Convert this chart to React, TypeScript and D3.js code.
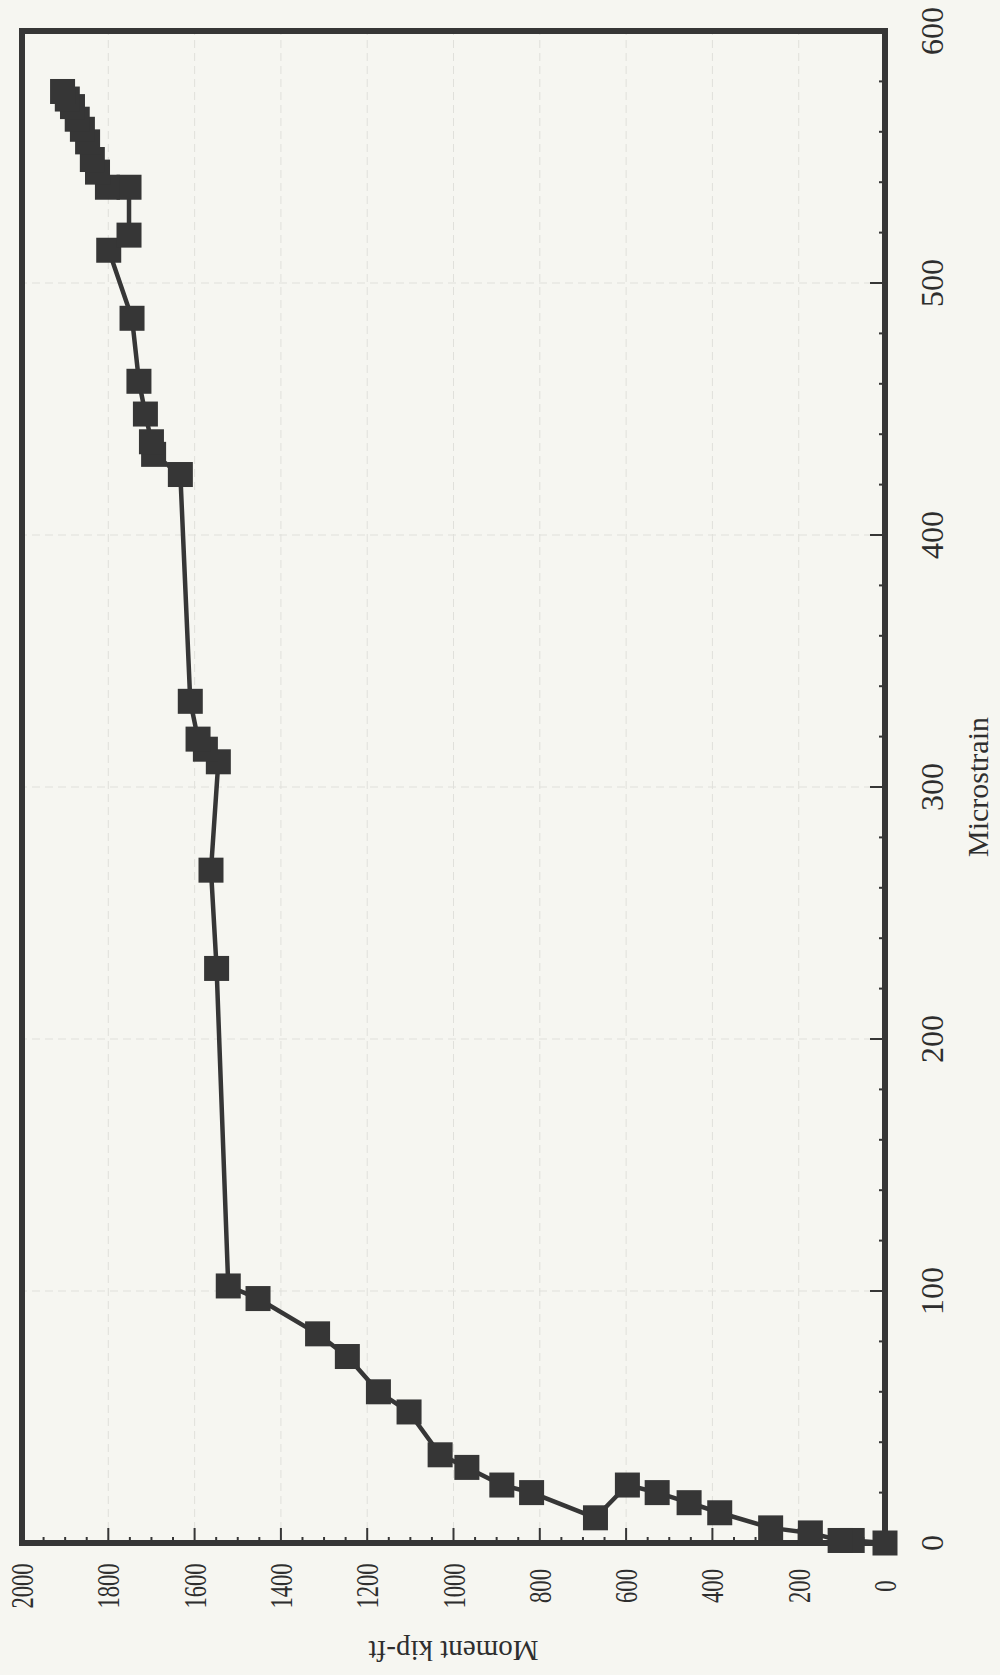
import React from 'react';
import * as d3 from 'd3';

// moment (kip-ft) and microstrain, in load order
const moment = [0, 76, 104, 173, 265, 383, 454, 528, 597, 671, 819, 888, 969, 1031, 1103, 1174, 1246, 1315, 1453, 1522,
  1549, 1562, 1545, 1575, 1592, 1610, 1633, 1695, 1700, 1714, 1729, 1745, 1799, 1752, 1752, 1802,
  1825, 1837, 1848, 1860, 1872, 1883, 1895, 1906];
const microstrain = [0, 1, 1, 4, 6, 12, 16, 20, 23, 10, 20, 23, 30, 35, 52, 60, 74, 83, 97, 102,
  228, 267, 310, 315, 319, 334, 424, 432, 437, 448, 461, 486, 513, 519, 538, 538,
  544, 549, 556, 561, 565, 570, 573, 576];

const momentTitle = 'Moment kip-ft';
const strainTitle = 'Microstrain';

const W = 1000;
const H = 1675;
const ink = '#363636';
const font = '"Liberation Serif", "Times New Roman", Times, serif';

export default function App() {
  // the page is turned a quarter turn: moment runs right to left, strain bottom to top
  const x = d3.scaleLinear().domain([0, 2000]).range([885, 22]);
  const y = d3.scaleLinear().domain([0, 600]).range([1543, 31]);

  const pts = moment.map((m, i) => [m, microstrain[i]]);
  const line = d3.line<number[]>().x(d => x(d[0])).y(d => y(d[1]));

  const mMajor = x.ticks(10);
  const mMinor = x.ticks(40).filter(v => v % 200 !== 0);
  const sMajor = y.ticks(6);
  const sMinor = y.ticks(30).filter(v => v % 100 !== 0);
  const sq = 25;

  return (
    <svg width={W} height={H} style={{ position: 'absolute', left: 0, top: 0, background: '#f6f6f1' }}>
      <rect width={W} height={H} fill="#f6f6f1" />

      {/* faint grid */}
      <g stroke="#e0e0db" strokeWidth={1} strokeDasharray="8,5">
        {mMajor.filter(v => v > 0 && v < 2000).map(v => (
          <line key={'gm' + v} x1={x(v)} x2={x(v)} y1={y(0)} y2={y(600)} />
        ))}
        {sMajor.filter(v => v > 0 && v < 600).map(v => (
          <line key={'gs' + v} x1={x(0)} x2={x(2000)} y1={y(v)} y2={y(v)} />
        ))}
      </g>

      {/* ticks, pointing inward */}
      <g stroke={ink} strokeWidth={2}>
        {mMajor.map(v => <line key={'tm' + v} x1={x(v)} x2={x(v)} y1={y(0)} y2={y(0) - 15} />)}
        {mMinor.map(v => <line key={'tn' + v} x1={x(v)} x2={x(v)} y1={y(0)} y2={y(0) - 6} />)}
        {sMajor.map(v => <line key={'ts' + v} x1={x(0)} x2={x(0) - 15} y1={y(v)} y2={y(v)} />)}
        {sMinor.map(v => <line key={'tt' + v} x1={x(0)} x2={x(0) - 6} y1={y(v)} y2={y(v)} />)}
      </g>

      {/* frame */}
      <rect x={x(2000)} y={y(600)} width={x(0) - x(2000)} height={y(0) - y(600)}
        fill="none" stroke={ink} strokeWidth={6} />

      {/* series */}
      <path d={line(pts) || ''} fill="none" stroke={ink} strokeWidth={4.5} strokeLinejoin="round" />
      <g fill={ink}>
        {pts.map((d, i) => (
          <rect key={i} x={x(d[0]) - sq / 2} y={y(d[1]) - sq / 2} width={sq} height={sq} />
        ))}
      </g>

      {/* tick labels, turned with the page */}
      <g fontFamily={font} fill="#2e2e2e">
        {mMajor.map(v => (
          <text key={'lm' + v} transform={`translate(${x(v)},1586) rotate(-90)`}
            textAnchor="middle" dominantBaseline="central" fontSize={32}
            textLength={String(v).length * 11.3} lengthAdjust="spacingAndGlyphs">{v}</text>
        ))}
        {sMajor.map(v => (
          <text key={'ls' + v} transform={`translate(932,${y(v)}) rotate(-90)`}
            textAnchor="middle" dominantBaseline="central" fontSize={32}>{v}</text>
        ))}
        <text transform={`translate(${(x(0) + x(2000)) / 2},1651) rotate(180)`}
          textAnchor="middle" dominantBaseline="central" fontSize={29}>{momentTitle}</text>
        <text transform={`translate(977,${(y(0) + y(600)) / 2}) rotate(-90)`}
          textAnchor="middle" dominantBaseline="central" fontSize={30}>{strainTitle}</text>
      </g>
    </svg>
  );
}
